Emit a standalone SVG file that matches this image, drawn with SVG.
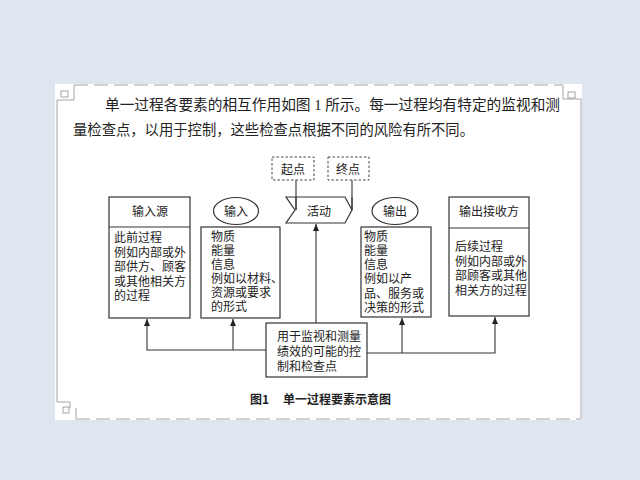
<svg xmlns="http://www.w3.org/2000/svg" width="640" height="480" viewBox="0 0 640 480">
<defs>
<marker id="arr" markerWidth="7" markerHeight="6" refX="7" refY="3" orient="auto" markerUnits="userSpaceOnUse" viewBox="0 0 7 6">
<path d="M0,0 L7,3 L0,6 Z" fill="#222"/>
</marker>
<style>
.t{font-family:"Noto Sans CJK SC","Liberation Sans",sans-serif;font-size:12px;fill:#222}
.p{font-family:"Liberation Serif","Noto Sans CJK SC",serif;font-size:14.5px;fill:#222}
.cap{font-family:"Noto Sans CJK SC","Liberation Sans",sans-serif;font-size:12px;font-weight:bold;fill:#222}
.box{fill:#fff;stroke:#333;stroke-width:1.2}
.dash{fill:#fff;stroke:#444;stroke-width:1;stroke-dasharray:2.5,2}
.ln{fill:none;stroke:#333;stroke-width:1.1}
.pg{fill:none;stroke:#9a9a9a;stroke-width:0.9}
</style>
</defs>
<rect x="0" y="0" width="640" height="480" fill="#dfe6f0"/>
<rect x="55" y="84" width="527" height="336" fill="#ffffff"/>
<g id="page-marks">
<line class="pg" x1="57" y1="100" x2="57" y2="402"/>
<line class="pg" x1="57" y1="100" x2="74" y2="100"/>
<line class="pg" x1="74" y1="85" x2="74" y2="100"/>
<rect class="pg" x="61" y="91" width="7" height="6"/>
<line class="pg" x1="74" y1="85" x2="563" y2="85" stroke-dasharray="14,6"/>
<line class="pg" x1="563" y1="85" x2="563" y2="99"/>
<line class="pg" x1="563" y1="99" x2="581" y2="99"/>
<rect class="pg" x="568" y="92" width="7" height="6"/>
<line class="pg" x1="581" y1="99" x2="581" y2="419"/>
<line class="pg" x1="57" y1="402" x2="70" y2="402"/>
<line class="pg" x1="70" y1="402" x2="70" y2="408"/>
<rect class="pg" x="63" y="407" width="6" height="6"/>
<line class="pg" x1="76" y1="408" x2="76" y2="419"/>
<line class="pg" x1="76" y1="419" x2="581" y2="419" stroke-dasharray="14,6"/>
</g>
<g id="paragraph">
<text class="p" x="105" y="110" textLength="455" lengthAdjust="spacingAndGlyphs">单一过程各要素的相互作用如图 1 所示。每一过程均有特定的监视和测</text>
<text class="p" x="73" y="135" textLength="401" lengthAdjust="spacingAndGlyphs">量检查点，以用于控制，这些检查点根据不同的风险有所不同。</text>
</g>
<g id="connectors">
<line class="ln" x1="296" y1="180" x2="296" y2="210"/>
<line class="ln" x1="352" y1="180" x2="352" y2="210"/>
<line class="ln" x1="316" y1="323" x2="316" y2="224" marker-end="url(#arr)"/>
<polyline class="ln" points="266,350 147,350 147,319" marker-end="url(#arr)"/>
<line class="ln" x1="233" y1="350" x2="233" y2="319" marker-end="url(#arr)"/>
<polyline class="ln" points="367,353 495,353 495,317" marker-end="url(#arr)"/>
<line class="ln" x1="402" y1="353" x2="402" y2="318" marker-end="url(#arr)"/>
</g>
<g id="start">
<rect class="dash" x="272" y="157" width="42" height="23"/>
<text class="t" x="293" y="173.5" text-anchor="middle">起点</text>
</g>
<g id="end">
<rect class="dash" x="328" y="157" width="41" height="23"/>
<text class="t" x="348" y="173.5" text-anchor="middle">终点</text>
</g>
<g id="activity">
<polygon class="box" points="286,197 345,197 352,210 345,223 286,223 295,210" fill-opacity="0"/>
<line class="ln" x1="296" y1="197" x2="296" y2="210"/>
<line class="ln" x1="352" y1="197" x2="352" y2="210"/>
<text class="t" x="319" y="216" text-anchor="middle">活动</text>
</g>
<g id="input-source">
<rect class="box" x="109" y="197" width="81" height="121"/>
<line class="ln" x1="109" y1="227" x2="190" y2="227"/>
<text class="t" x="150" y="216" text-anchor="middle">输入源</text>
<text class="t" x="114" y="242">此前过程</text>
<text class="t" x="114" y="256.5">例如内部或外</text>
<text class="t" x="114" y="271">部供方、顾客</text>
<text class="t" x="114" y="285.5">或其他相关方</text>
<text class="t" x="114" y="300">的过程</text>
</g>
<g id="input">
<ellipse class="box" cx="236" cy="211" rx="22.5" ry="13.5"/>
<text class="t" x="236" y="215.5" text-anchor="middle">输入</text>
<rect class="box" x="201" y="227" width="79" height="91"/>
<text class="t" x="211" y="241">物质</text>
<text class="t" x="211" y="255">能量</text>
<text class="t" x="211" y="269">信息</text>
<text class="t" x="211" y="283">例如以材料、</text>
<text class="t" x="211" y="297">资源或要求</text>
<text class="t" x="211" y="311">的形式</text>
</g>
<g id="output">
<ellipse class="box" cx="395" cy="211" rx="23" ry="13.5"/>
<text class="t" x="395" y="215.5" text-anchor="middle">输出</text>
<rect class="box" x="361" y="227" width="70" height="90"/>
<text class="t" x="364" y="241">物质</text>
<text class="t" x="364" y="255">能量</text>
<text class="t" x="364" y="269">信息</text>
<text class="t" x="364" y="283">例如以产</text>
<text class="t" x="364" y="297.5">品、服务或</text>
<text class="t" x="364" y="312">决策的形式</text>
</g>
<g id="output-receiver">
<rect class="box" x="449" y="197" width="80" height="119"/>
<line class="ln" x1="449" y1="228" x2="529" y2="228"/>
<text class="t" x="489" y="216" text-anchor="middle">输出接收方</text>
<text class="t" x="455" y="251">后续过程</text>
<text class="t" x="455" y="265.5">例如内部或外</text>
<text class="t" x="455" y="280">部顾客或其他</text>
<text class="t" x="455" y="294.5">相关方的过程</text>
</g>
<g id="control">
<rect class="box" x="266" y="323" width="101" height="54"/>
<text class="t" x="277" y="341">用于监视和测量</text>
<text class="t" x="277" y="356">绩效的可能的控</text>
<text class="t" x="277" y="371">制和检查点</text>
</g>
<g id="caption">
<text class="cap" x="250" y="404">图1</text>
<text class="cap" x="283" y="404" textLength="108" lengthAdjust="spacingAndGlyphs">单一过程要素示意图</text>
</g>
</svg>
